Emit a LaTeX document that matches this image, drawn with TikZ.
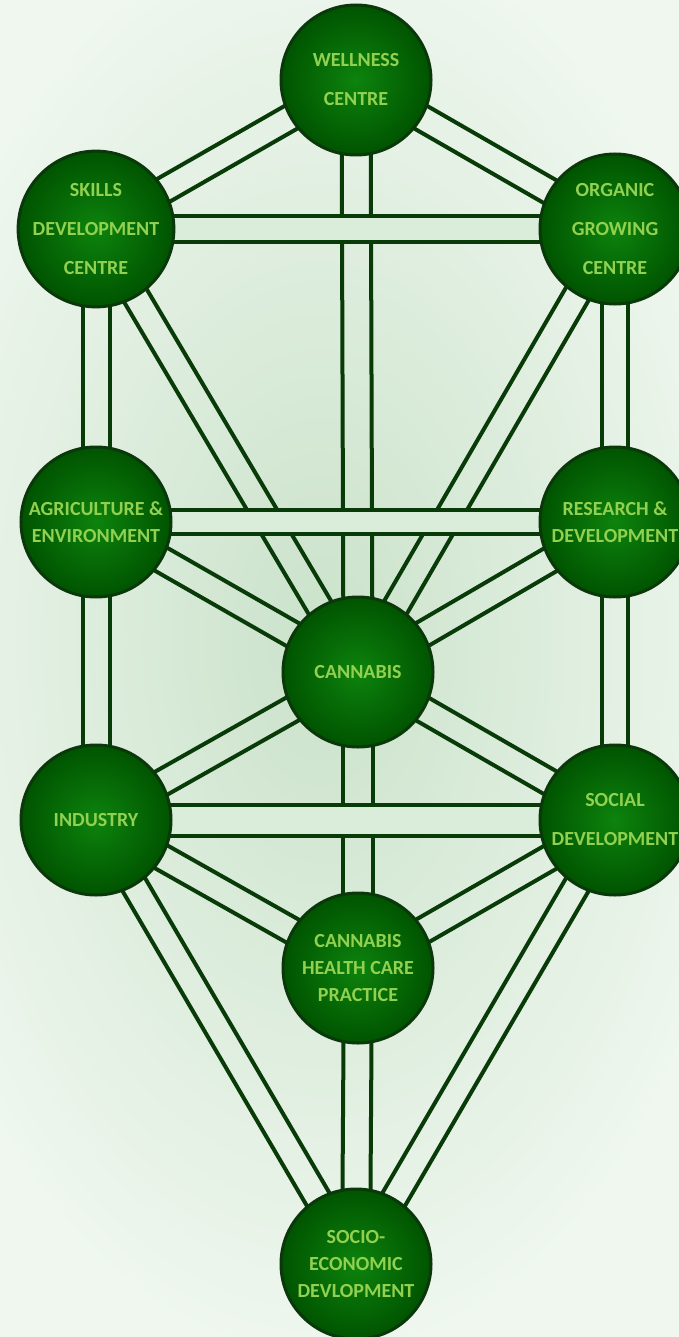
\documentclass[tikz,border=0pt]{standalone}
\usepackage{fontspec}
\setmainfont{Carlito}
\usetikzlibrary{calc}
\definecolor{bgbase}{HTML}{EFF7EF}
\definecolor{bginner}{HTML}{CAE2CA}
\definecolor{hfill}{HTML}{DAEDDA}
\definecolor{bandcol}{HTML}{093B09}
\definecolor{ringcol}{HTML}{0A380A}
\definecolor{sinner}{HTML}{0D830D}
\definecolor{souter}{HTML}{005400}
\definecolor{labelcol}{HTML}{92D050}
\pgfdeclarelayer{bglayer}
\pgfdeclarelayer{midlayer}
\pgfsetlayers{bglayer,midlayer,main}
\newcommand\bandlines[3][13]{%
  \draw[bandline] ($(#2.center)!#1pt!90:(#3.center)$) -- ($(#3.center)!#1pt!-90:(#2.center)$);
  \draw[bandline] ($(#2.center)!#1pt!-90:(#3.center)$) -- ($(#3.center)!#1pt!90:(#2.center)$);}
\newcommand\hband[3][13]{%
  \fill[hfill] ($(#2.center)!#1pt!90:(#3.center)$) rectangle ($(#3.center)!#1pt!90:(#2.center)$);
  \bandlines[#1]{#2}{#3}}
\begin{document}
\begin{tikzpicture}[x=1pt,y=-1pt,
  bandline/.style={draw=bandcol, line width=4pt},
  sefira/.style={circle, minimum size=150pt, inner sep=0pt, draw=ringcol, line width=3pt,
    inner color=sinner, outer color=souter, text=labelcol, align=center,
    font=\bfseries\fontsize{20}{39}\selectfont},
  tight/.style={font=\bfseries\fontsize{20}{27}\selectfont}]
\useasboundingbox (0,0) rectangle (679,1337);
\clip (0,0) rectangle (679,1337);

\node[sefira] (W) at (356,80) {WELLNESS\\CENTRE};
\node[sefira] (S) at (96,229) {SKILLS\\DEVELOPMENT\\CENTRE};
\node[sefira] (O) at (615,229) {ORGANIC\\GROWING\\CENTRE};
\node[sefira,tight] (A) at (96,522) {AGRICULTURE \&\\ENVIRONMENT};
\node[sefira,tight] (R) at (615,522) {RESEARCH \&\\DEVELOPMENT};
\node[sefira] (C) at (358,672) {CANNABIS};
\node[sefira] (I) at (96,820) {INDUSTRY};
\node[sefira] (So) at (615,820) {SOCIAL\\DEVELOPMENT};
\node[sefira,tight] (H) at (358,968) {CANNABIS\\HEALTH CARE\\PRACTICE};
\node[sefira,tight] (E) at (356,1264) {SOCIO-\\ECONOMIC\\DEVLOPMENT};

\begin{pgfonlayer}{bglayer}
\fill[bgbase] (0,0) rectangle (679,1337);
\shade[inner color=bginner, outer color=bgbase] (320,640) ellipse (440 and 720);
\end{pgfonlayer}

\begin{pgfonlayer}{midlayer}
% slanted and vertical paths
\bandlines{W}{S}
\bandlines{W}{O}
\bandlines[14.5]{W}{C}
\bandlines[13.5]{S}{A}
\bandlines{S}{C}
\bandlines[13]{O}{R}
\bandlines{O}{C}
\bandlines{A}{C}
\bandlines[13.5]{A}{I}
\bandlines{R}{C}
\bandlines[13]{R}{So}
\bandlines{C}{I}
\bandlines{C}{So}
\bandlines[15]{C}{H}
\bandlines{I}{H}
\bandlines{I}{E}
\bandlines{So}{H}
\bandlines{So}{E}
\bandlines[14]{H}{E}
% horizontal paths on top
\hband[13]{S}{O}
\hband[12]{A}{R}
\hband[15.5]{I}{So}
\end{pgfonlayer}
\end{tikzpicture}
\end{document}
